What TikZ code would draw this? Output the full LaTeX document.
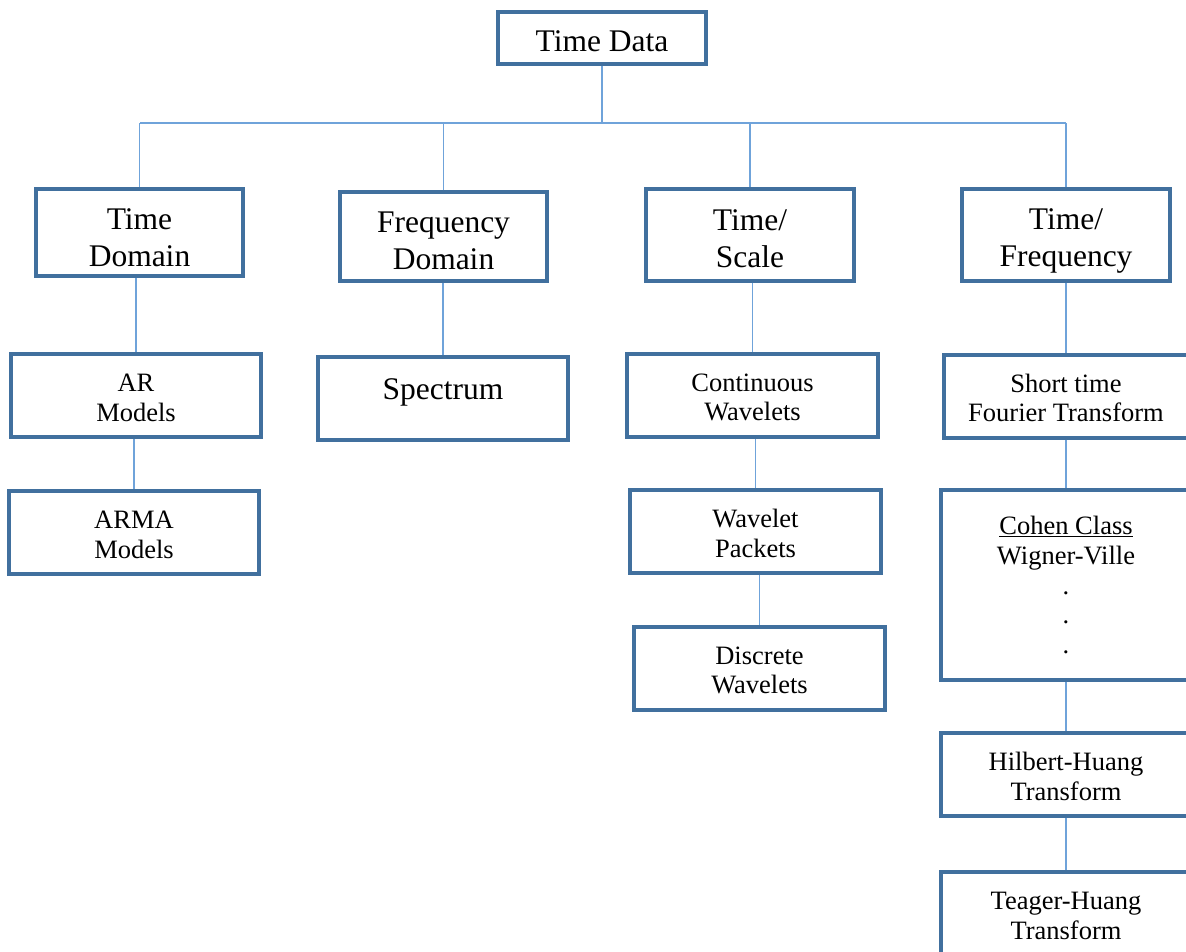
\documentclass[tikz,border=0pt]{standalone}
\usepackage{fontspec}
\setmainfont{Liberation Serif}
\definecolor{boxline}{HTML}{41709E}
\definecolor{linkline}{HTML}{6FA3DA}
\tikzset{
  box/.style={draw=boxline, line width=3.1pt, inner sep=0pt, fill=white},
  bigtxt/.style={inner sep=0pt, align=center, font=\fontsize{31.5}{37}\selectfont},
  smalltxt/.style={inner sep=0pt, align=center, font=\fontsize{26.5}{29.8}\selectfont},
  link/.style={draw=linkline, line width=1.3pt}
}
\begin{document}
\begin{tikzpicture}[x=1pt, y=-1pt]
\useasboundingbox (0,0) rectangle (1186,951);
\clip (0,0) rectangle (1186,951);

% root
\node[box, minimum width=208pt, minimum height=52pt] (root) at (602,38) {};
\node[bigtxt] (root-t) at ([yshift=-3pt]root.center) {Time Data};

% first level
\node[box, minimum width=207pt, minimum height=87pt] (td) at (139.5,232.5) {};
\node[bigtxt] (td-t) at ([yshift=-5pt]td.center) {Time\\Domain};
\node[box, minimum width=207pt, minimum height=89pt] (fd) at (443.5,236.5) {};
\node[bigtxt] (fd-t) at ([yshift=-4pt]fd.center) {Frequency\\Domain};
\node[box, minimum width=208pt, minimum height=92pt] (ts) at (750,235) {};
\node[bigtxt] (ts-t) at ([yshift=-4pt]ts.center) {Time/\\Scale};
\node[box, minimum width=208pt, minimum height=92pt] (tf) at (1066,235) {};
\node[bigtxt] (tf-t) at ([yshift=-6pt]tf.center) {Time/\\Frequency};

% time domain branch
\node[box, minimum width=250pt, minimum height=83pt] (ar) at (136,395.5) {};
\node[smalltxt] (ar-t) at ([yshift=-2pt]ar.center) {AR\\Models};
\node[box, minimum width=250pt, minimum height=83pt] (arma) at (134,532.5) {};
\node[smalltxt] (arma-t) at ([yshift=-2pt]arma.center) {ARMA\\Models};

% frequency domain branch
\node[box, minimum width=250pt, minimum height=83pt] (spec) at (443,398.5) {};
\node[bigtxt] (spec-t) at ([yshift=6pt]spec.center) {Spectrum};

% time/scale branch
\node[box, minimum width=251pt, minimum height=83pt] (cw) at (752.5,395.5) {};
\node[smalltxt] (cw-t) at ([yshift=-2pt]cw.center) {Continuous\\Wavelets};
\node[box, minimum width=251pt, minimum height=83pt] (wp) at (755.5,531.5) {};
\node[smalltxt] (wp-t) at ([yshift=-2pt]wp.center) {Wavelet\\Packets};
\node[box, minimum width=251pt, minimum height=83pt] (dw) at (759.5,668.5) {};
\node[smalltxt] (dw-t) at ([yshift=-2pt]dw.center) {Discrete\\Wavelets};

% time/frequency branch
\node[box, minimum width=244pt, minimum height=83pt] (stft) at (1066,396.5) {};
\node[smalltxt] (stft-t) at ([yshift=-1.5pt]stft.center) {Short time\\Fourier Transform};
\node[box, minimum width=250pt, minimum height=190pt] (cohen) at (1066,585) {};
\node[smalltxt] (cohen-t) at (cohen.center) {\underline{Cohen Class}\\Wigner-Ville\\.\\.\\.};
\node[box, minimum width=250pt, minimum height=83pt] (hh) at (1066,774.5) {};
\node[smalltxt] (hh-t) at ([yshift=-2pt]hh.center) {Hilbert-Huang\\Transform};
\node[box, minimum width=250pt, minimum height=83pt] (th) at (1066,913.5) {};
\node[smalltxt] (th-t) at ([yshift=-2.5pt]th.center) {Teager-Huang\\Transform};

% distribution bus
\coordinate (busL) at (140,123);
\coordinate (busR) at (1066,123);
\draw[link] (busL) -- (busR);
\draw[link] (root.south) -- (root.south |- busL);
\draw[link] (td.north) -- (td.north |- busL);
\draw[link] (fd.north) -- (fd.north |- busL);
\draw[link] (ts.north) -- (ts.north |- busL);
\draw[link] (tf.north) -- (tf.north |- busL);

% vertical chains
\draw[link] (ar.north |- td.south) -- (ar.north);
\draw[link] (arma.north |- ar.south) -- (arma.north);
\draw[link] (spec.north |- fd.south) -- (spec.north);
\draw[link] (cw.north |- ts.south) -- (cw.north);
\draw[link] (wp.north |- cw.south) -- (wp.north);
\draw[link] (dw.north |- wp.south) -- (dw.north);
\draw[link] (stft.north |- tf.south) -- (stft.north);
\draw[link] (cohen.north |- stft.south) -- (cohen.north);
\draw[link] (hh.north |- cohen.south) -- (hh.north);
\draw[link] (th.north |- hh.south) -- (th.north);
\end{tikzpicture}
\end{document}
